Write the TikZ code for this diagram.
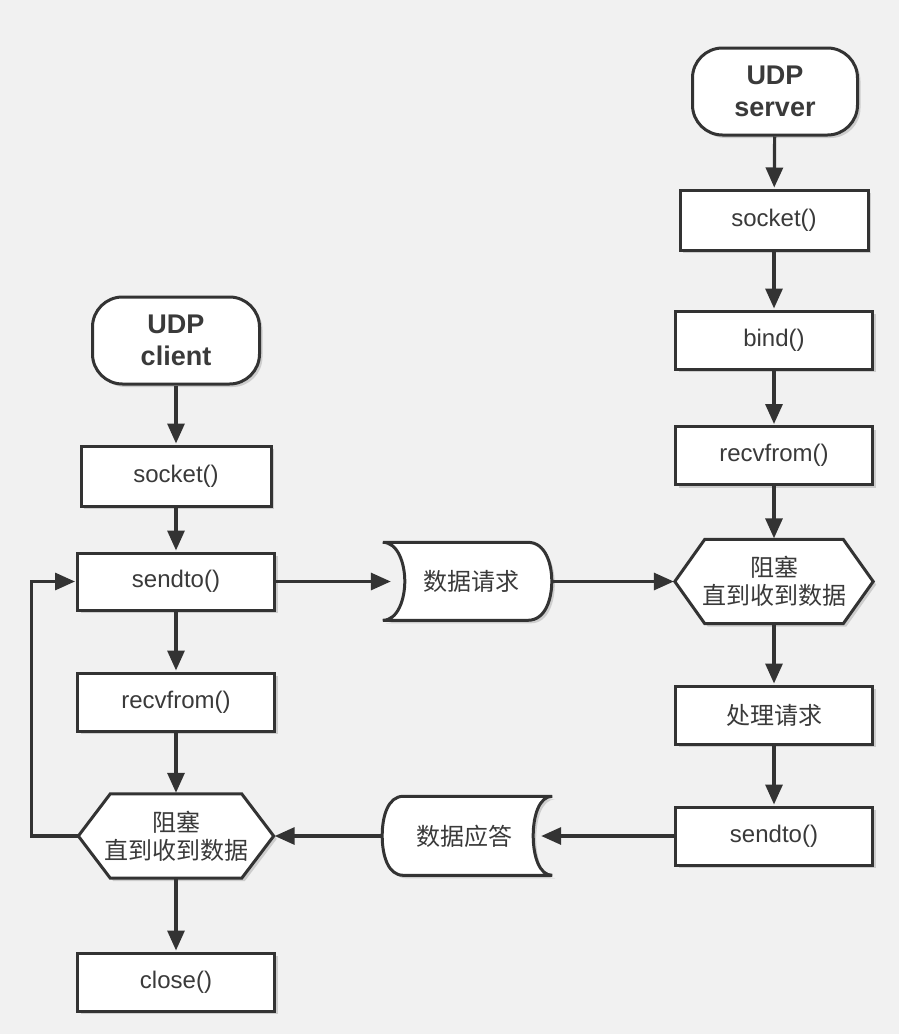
\documentclass[tikz,border=0pt]{standalone}
\usepackage{fontspec}
\setmainfont{Liberation Sans}
\newfontfamily\cjk{Noto Sans CJK SC}
\usetikzlibrary{arrows.meta,shadows,calc}
\pgfdeclarelayer{back}\pgfdeclarelayer{shp}
\pgfsetlayers{back,shp,main}
\definecolor{bgc}{HTML}{F1F1F1}
\definecolor{ink}{HTML}{333333}
\definecolor{txt}{HTML}{3A3A3A}
\tikzset{
 sh/.style={drop shadow={shadow xshift=3pt,shadow yshift=-3pt,opacity=0.15,fill=black}},
 proc/.style={draw=ink,fill=white,line width=3pt,minimum height=58pt,minimum width=197pt,inner sep=0pt,text=txt,font=\fontsize{24}{29}\selectfont,sh},
 term/.style={proc,rounded corners=30pt,minimum width=167pt,minimum height=87pt,font=\bfseries\fontsize{27}{32}\selectfont,align=center},
 free/.style={inner sep=0pt,text=txt,font=\cjk\fontsize{24}{28}\selectfont,align=center},
 outline/.style={draw=ink,fill=white,line width=3pt,line join=miter,sh},
 conn/.style={draw=ink,line width=3.2pt,-{Triangle[length=20pt,width=17pt]},shorten >=1pt},
}
\begin{document}
\begin{tikzpicture}[x=1pt,y=-1pt]
\begin{pgfonlayer}{back}
\fill[bgc] (0,0) rectangle (899,1034);
\end{pgfonlayer}
\useasboundingbox (0,0) rectangle (899,1034);
% client column
\node[term] (ct) at (176,340.5) {UDP\\client};
\node[proc,minimum width=190pt,minimum height=60pt] (cs) at (176,476) {socket()};
\node[proc,minimum height=57pt] (csend) at (176,581.5) {sendto()};
\node[proc] (crecv) at (176,702) {recvfrom()};
\node[free,minimum width=195pt,minimum height=84pt] (ch) at (176,836) {阻塞\\直到收到数据};
\node[proc] (cclose) at (176,982) {close()};
% server column
\node[term,minimum width=165pt] (st) at (775,91.5) {UDP\\server};
\node[proc,minimum width=188pt,minimum height=60pt] (ss) at (774,220) {socket()};
\node[proc] (sb) at (774,340) {bind()};
\node[proc] (sr) at (774,455.5) {recvfrom()};
\node[free,minimum width=198pt,minimum height=84pt] (sh) at (774,581.5) {阻塞\\直到收到数据};
\node[proc,font=\cjk\fontsize{24}{29}\selectfont] (sp) at (774,715) {处理请求};
\node[proc] (ssend) at (774,836) {sendto()};
% middle
\node[free,minimum width=169pt,minimum height=78pt] (req) at (467.5,581.5) {\hspace*{8pt}数据请求};
\node[free,minimum width=170pt,minimum height=79pt] (ans) at (467,836) {数据应答\hspace*{6pt}};
\begin{pgfonlayer}{shp}
\draw[outline] ([xshift=32pt]ch.north west) -- ([xshift=-32pt]ch.north east) -- (ch.east) -- ([xshift=-32pt]ch.south east) -- ([xshift=32pt]ch.south west) -- (ch.west) -- cycle;
\draw[outline] ([xshift=30pt]sh.north west) -- ([xshift=-30pt]sh.north east) -- (sh.east) -- ([xshift=-30pt]sh.south east) -- ([xshift=30pt]sh.south west) -- (sh.west) -- cycle;
\draw[outline] (req.north west) -- ++(145,0) .. controls +(18,0) and +(0,-17) .. ++(24,39) .. controls +(0,17) and +(18,0) .. ++(-24,39) -- ++(-145,0) .. controls +(15,0) and +(0,18) .. ++(22,-39) .. controls +(0,-18) and +(15,0) .. ++(-22,-39) -- cycle;
\draw[outline] (ans.north east) -- ++(-149,0) .. controls +(-15,0) and +(0,-20) .. ++(-21,39.5) .. controls +(0,20) and +(-15,0) .. ++(21,39.5) -- ++(149,0) .. controls +(-13,0) and +(0,20) .. ++(-19,-39.5) .. controls +(0,-20) and +(-13,0) .. ++(19,-39.5) -- cycle;
\end{pgfonlayer}
% connectors
\draw[conn] (ct) -- (cs);
\draw[conn] (cs) -- (csend);
\draw[conn] (csend) -- (crecv);
\draw[conn] (crecv) -- (ch);
\draw[conn] (ch) -- (cclose);
\draw[conn] (st) -- (ss);
\draw[conn] (ss) -- (sb);
\draw[conn] (sb) -- (sr);
\draw[conn] (sr) -- (sh);
\draw[conn] (sh) -- (sp);
\draw[conn] (sp) -- (ssend);
\draw[conn] (csend.east) -- ([xshift=9pt]req.west);
\draw[conn] (req.east) -- (sh.west);
\draw[conn] (ssend.west) -- ([xshift=-12pt]ans.east);
\draw[conn] (ans.west) -- (ch.east);
\draw[conn,rounded corners=0pt] (ch.west) -- ++(-47,0) |- (csend.west);
\end{tikzpicture}
\end{document}
